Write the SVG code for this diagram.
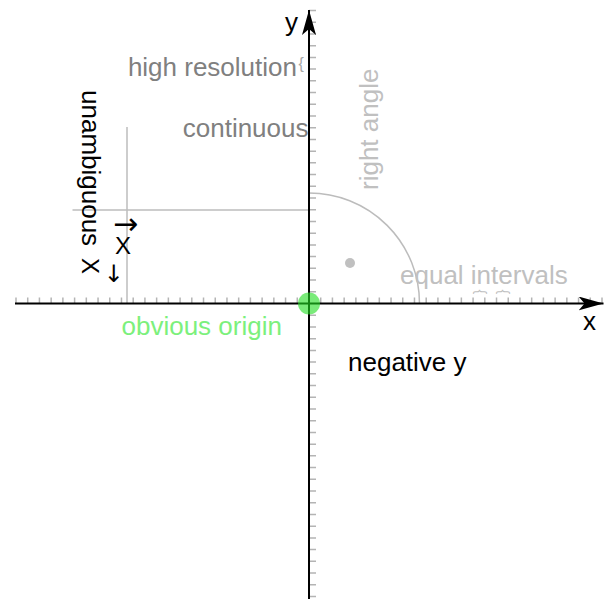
<svg xmlns="http://www.w3.org/2000/svg" width="608" height="599" viewBox="0 0 608 599">
<style>
text{font-family:"Liberation Sans",Arial,sans-serif;font-size:26px}
.axis{stroke:#000;stroke-width:2;fill:none}
.tick{stroke:#b4b4b4;stroke-width:1.5;fill:none}
.guide{stroke:#bcbcbc;stroke-width:1.5;fill:none}
.mid{fill:#808080}
.light{fill:#c0c0c0}
.brace{font-size:14px;fill:#c0c0c0}
.arr{font-family:"DejaVu Sans",sans-serif}
</style>
<defs>
<marker id="arrow" viewBox="0 0 25 14" refX="25" refY="7" markerWidth="25" markerHeight="14" markerUnits="userSpaceOnUse" orient="auto">
<path d="M0,0 L25,7 L0,14 L6,7 z" fill="#000"/>
</marker>
</defs>
<rect width="608" height="599" fill="#fff"/>

<g id="guides">
<line class="guide" x1="127" y1="127" x2="127" y2="303.5"/>
<line class="guide" x1="72.5" y1="210" x2="309" y2="210"/>
<path class="guide" d="M309,193 A110.5,110.5 0 0 1 419.5,303.5"/>
<circle cx="350" cy="263" r="5" fill="#c0c0c0"/>
</g>

<g id="ticks">
<path class="tick" d="M16,297.5V303.5M27.72,297.5V303.5M39.44,297.5V303.5M51.16,297.5V303.5M62.88,297.5V303.5M74.6,297.5V303.5M86.32,297.5V303.5M98.04,297.5V303.5M109.76,297.5V303.5M121.48,297.5V303.5M133.2,297.5V303.5M144.92,297.5V303.5M156.64,297.5V303.5M168.36,297.5V303.5M180.08,297.5V303.5M191.8,297.5V303.5M203.52,297.5V303.5M215.24,297.5V303.5M226.96,297.5V303.5M238.68,297.5V303.5M250.4,297.5V303.5M262.12,297.5V303.5M273.84,297.5V303.5M285.56,297.5V303.5M297.28,297.5V303.5M320.72,297.5V303.5M332.44,297.5V303.5M344.16,297.5V303.5M355.88,297.5V303.5M367.6,297.5V303.5M379.32,297.5V303.5M391.04,297.5V303.5M402.76,297.5V303.5M414.48,297.5V303.5M426.2,297.5V303.5M437.92,297.5V303.5M449.64,297.5V303.5M461.36,297.5V303.5M473.08,297.5V303.5M484.8,297.5V303.5M496.52,297.5V303.5M508.24,297.5V303.5M519.96,297.5V303.5M531.68,297.5V303.5M543.4,297.5V303.5M555.12,297.5V303.5M566.84,297.5V303.5M578.56,297.5V303.5M590.28,297.5V303.5M602,297.5V303.5"/>
<path class="tick" d="M309,10.5H316M309,22.22H316M309,33.94H316M309,45.66H316M309,57.38H316M309,69.1H316M309,80.82H316M309,92.54H316M309,104.26H316M309,115.98H316M309,127.7H316M309,139.42H316M309,151.14H316M309,162.86H316M309,174.58H316M309,186.3H316M309,198.02H316M309,209.74H316M309,221.46H316M309,233.18H316M309,244.9H316M309,256.62H316M309,268.34H316M309,280.06H316M309,291.78H316M309,315.22H316M309,326.94H316M309,338.66H316M309,350.38H316M309,362.1H316M309,373.82H316M309,385.54H316M309,397.26H316M309,408.98H316M309,420.7H316M309,432.42H316M309,444.14H316M309,455.86H316M309,467.58H316M309,479.3H316M309,491.02H316M309,502.74H316M309,514.46H316M309,526.18H316M309,537.9H316M309,549.62H316M309,561.34H316M309,573.06H316M309,584.78H316M309,596.5H316"/>
</g>

<g id="axes">
<line class="axis" x1="15" y1="303.5" x2="603.5" y2="303.5" marker-end="url(#arrow)"/>
<line class="axis" x1="309" y1="599" x2="309" y2="10" marker-end="url(#arrow)"/>
</g>

<g id="origin">
<circle cx="309" cy="303.5" r="11" fill="#22dd22" fill-opacity="0.6"/>
<text x="121.5" y="335" fill="#7cf07c">obvious origin</text>
</g>

<g id="labels">
<text x="298" y="31" text-anchor="end" fill="#000">y</text>
<text x="583" y="330" fill="#000">x</text>
<text x="297" y="76" text-anchor="end" class="mid">high resolution</text>
<text x="298.5" y="69" style="font-size:16px;fill:#a8a8a8">{</text>
<text x="308.5" y="137" text-anchor="end" class="mid">continuous</text>
<text transform="translate(378,190) rotate(-90)" class="light">right angle</text>
<text x="400" y="283.5" class="light">equal intervals</text>
<text transform="translate(475.5,289.5) rotate(90)" class="brace">{</text>
<text transform="translate(498.9,289.5) rotate(90)" class="brace">{</text>
<text x="348" y="371" fill="#000">negative y</text>
</g>

<g id="unambiguous">
<text transform="translate(82,90) rotate(90)" fill="#000">unambiguous</text>
<g transform="translate(82,258) rotate(90)">
<text x="0" y="0" style="font-size:24px" fill="#000">X</text>
<text x="5" y="-24" class="arr" style="font-size:24px" fill="#000">→</text>
</g>
<text x="115" y="254" fill="#000" style="font-size:24px">X</text>
<text x="113" y="234" class="arr" style="font-size:30px" fill="#000">→</text>
</g>
</svg>
